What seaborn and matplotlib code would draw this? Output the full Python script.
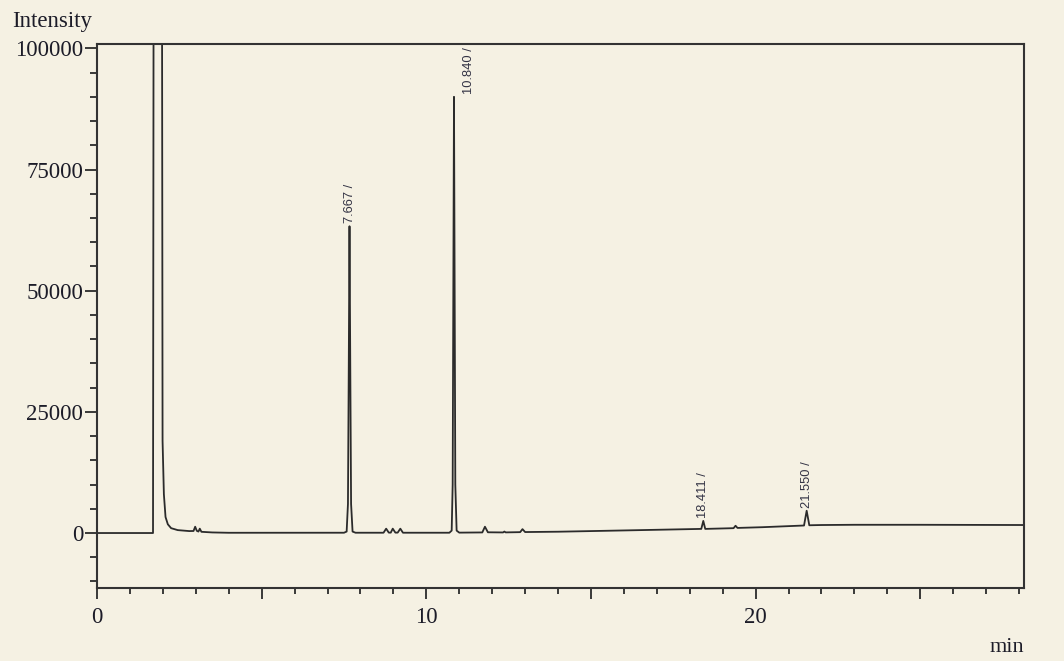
import matplotlib
matplotlib.use("Agg")
import matplotlib.pyplot as plt
import seaborn as sns
import pandas as pd
from matplotlib.ticker import MultipleLocator, FuncFormatter

# trace vertices (min, intensity)
trace_min = [
    0.0, 1.70, 1.72, 1.97, 1.99, 2.03, 2.08, 2.15, 2.25, 2.45, 2.80, 2.93, 2.98, 3.03,
    3.08, 3.12, 3.17, 3.50, 4.00,
    7.50, 7.58, 7.62, 7.645, 7.667, 7.69, 7.715, 7.76, 7.85,
    8.70, 8.78, 8.86, 8.92, 8.98, 9.06, 9.13, 9.21, 9.29,
    10.00, 10.70, 10.77, 10.80, 10.82, 10.84, 10.86, 10.88, 10.92, 11.00,
    11.70, 11.78, 11.87, 12.33, 12.37, 12.41, 12.85, 12.92, 13.00,
    14.00, 15.00, 16.50, 18.35, 18.411, 18.47, 19.33, 19.39, 19.45, 20.20,
    21.47, 21.55, 21.63, 22.00, 23.00, 25.00, 28.20,
]
trace_int = [
    0, 0, 130000, 130000, 19000, 8000, 3300, 1800, 1000, 600, 400, 420, 1300, 450,
    300, 900, 250, 120, 50,
    60, 300, 6000, 35000, 63300, 35000, 6000, 300, 60,
    60, 900, 80, 80, 900, 80, 80, 900, 60,
    60, 60, 500, 10000, 50000, 90000, 50000, 10000, 500, 80,
    120, 1300, 150, 120, 300, 130, 180, 800, 200,
    270, 400, 600, 850, 2500, 850, 1000, 1500, 1050, 1200,
    1550, 4600, 1600, 1650, 1700, 1700, 1650,
]

# labelled peaks
peak_rt = [7.667, 10.840, 18.411, 21.550]
peak_top = [63300, 90000, 2500, 4600]
peak_text = ["7.667 /", "10.840 /", "18.411 /", "21.550 /"]
label_shift_pt = [0, 11, 0, 0]

bg = "#f5f1e3"
sns.set_style("ticks")
plt.rcParams["font.family"] = ["Liberation Serif", "DejaVu Serif"]

fig = plt.figure(figsize=(10.64, 6.61), dpi=100, facecolor=bg)
ax = fig.add_axes([0.0912, 0.1104, 0.8712, 0.8230])
ax.set_facecolor(bg)

df = pd.DataFrame({"min": trace_min, "Intensity": trace_int})
sns.lineplot(data=df, x="min", y="Intensity", estimator=None, sort=False,
             color="#2b2b2b", lw=1.3, ax=ax)

ax.set_xlim(0, 28.15)
ax.set_ylim(-11350, 100900)
ax.set_xlabel("")
ax.set_ylabel("")

ax.xaxis.set_major_locator(MultipleLocator(5))
ax.xaxis.set_minor_locator(MultipleLocator(1))
ax.xaxis.set_major_formatter(FuncFormatter(lambda v, p: f"{v:.0f}" if round(v) % 10 == 0 else ""))
ax.yaxis.set_major_locator(MultipleLocator(25000))
ax.yaxis.set_minor_locator(MultipleLocator(5000))
ax.yaxis.set_major_formatter(FuncFormatter(lambda v, p: f"{v:.0f}"))

ax.tick_params(axis="x", which="major", length=8, width=1.3, pad=6, labelsize=16.5,
               color="#2b2b2b", labelcolor="#1c1c28")
ax.tick_params(axis="x", which="minor", length=4.5, width=1.3, color="#2b2b2b")
ax.tick_params(axis="y", which="major", length=9, width=1.3, pad=1, labelsize=16.5,
               color="#2b2b2b", labelcolor="#1c1c28")
ax.tick_params(axis="y", which="minor", length=5, width=1.3, color="#2b2b2b")

for s in ax.spines.values():
    s.set_visible(True)
    s.set_color("#333333")
    s.set_linewidth(1.5)

for rt, top, txt, dx in zip(peak_rt, peak_top, peak_text, label_shift_pt):
    ax.annotate(txt, xy=(rt, top), xytext=(dx, 2), textcoords="offset points",
                rotation=90, ha="center", va="bottom", fontsize=9.3,
                family=["Liberation Sans", "DejaVu Sans"], color="#333344")

fig.text(12 / 1064, 1 - 21 / 661, "Intensity", fontsize=16.5, va="center", ha="left",
         color="#1c1c28")
fig.text(1024 / 1064, 1 - 648 / 661, "min", fontsize=16, va="center", ha="right",
         color="#1c1c28")

fig.savefig("out.png", dpi=100, facecolor=bg)
